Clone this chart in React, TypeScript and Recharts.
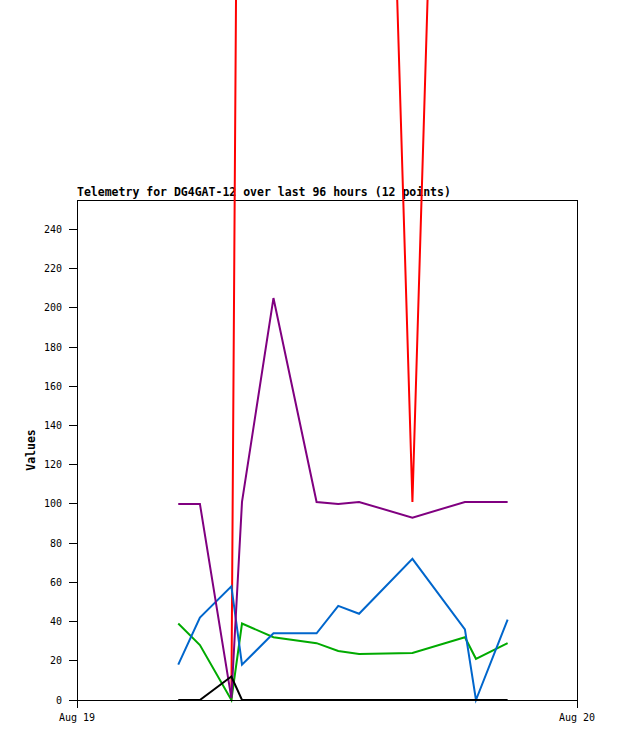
import React from 'react';
import { LineChart, Line, XAxis, YAxis, ReferenceArea } from 'recharts';

// time of each sample, in hours after Aug 19 00:00
const hours = [4.86, 5.9, 7.41, 7.92, 9.43, 11.5, 12.54, 13.54, 16.1, 18.62, 19.15, 20.67];
const redSeries = [null, null, 0, 820, 900, 950, 980, 1000, 101, 990, 1000, 1000];
const greenSeries = [39, 28, 0, 39, 32, 29, 25, 23.5, 24, 32, 21, 29];
const blueSeries = [18, 42, 58, 18, 34, 34, 48, 44, 72, 36, 0, 41];
const purpleSeries = [100, 100, 1, 101, 205, 101, 100, 101, 93, 101, 101, 101];
const blackSeries = [0, 0, 12, 0, 0, 0, 0, 0, 0, 0, 0, 0];

const xTickValues = [0, 24];
const xTickLabels = ['Aug 19', 'Aug 20'];
const yTicks = [0, 20, 40, 60, 80, 100, 120, 140, 160, 180, 200, 220, 240];
const yDomain = [0, 255];
const title = 'Telemetry for DG4GAT-12 over last 96 hours (12 points)';
const yLabel = 'Values';

const data = hours.map((t, i) => ({
  t,
  red: redSeries[i],
  green: greenSeries[i],
  blue: blueSeries[i],
  purple: purpleSeries[i],
  black: blackSeries[i],
}));

const MONO = '"DejaVu Sans Mono", monospace';

const css = `
.recharts-line, .recharts-line g, .recharts-line path { clip-path: none !important; }
.recharts-cartesian-axis-line, .recharts-cartesian-axis-tick-line, .recharts-reference-area-rect { shape-rendering: crispEdges; }
`;

export default function App() {
  return (
    <div style={{ position: 'absolute', left: 0, top: 0, width: 618, height: 741, background: '#fff' }}>
      <style>{css}</style>
      <div
        style={{
          position: 'absolute',
          left: 77,
          top: 186,
          fontFamily: MONO,
          fontWeight: 'bold',
          fontSize: 11.5,
          lineHeight: '12px',
          color: '#000',
          whiteSpace: 'nowrap',
          zIndex: 0,
        }}
      >
        {title}
      </div>
      <div style={{ position: 'absolute', left: 0, top: 0, zIndex: 1 }}>
        <LineChart
          width={618}
          height={741}
          data={data}
          margin={{ top: 200, right: 41, bottom: 11, left: 17 }}
        >
          <XAxis
            dataKey="t"
            type="number"
            domain={[xTickValues[0], xTickValues[1]]}
            ticks={xTickValues}
            tickFormatter={(v) => xTickLabels[xTickValues.indexOf(v)]}
            height={30}
            tickSize={8}
            tickMargin={6}
            axisLine={{ stroke: '#000' }}
            tickLine={{ stroke: '#000' }}
            tick={{ fill: '#000', fontSize: 10, fontFamily: MONO }}
          />
          <YAxis
            type="number"
            domain={yDomain}
            allowDataOverflow
            ticks={yTicks}
            width={60}
            tickSize={8}
            tickMargin={7}
            axisLine={{ stroke: '#000' }}
            tickLine={{ stroke: '#000' }}
            tick={{ fill: '#000', fontSize: 10, fontFamily: MONO }}
            label={{
              value: yLabel,
              angle: -90,
              position: 'insideLeft',
              offset: 14,
              style: { textAnchor: 'middle', fontFamily: MONO, fontWeight: 'bold', fontSize: 11.5, fill: '#000' },
            }}
          />
          <ReferenceArea
            x1={xTickValues[0]}
            x2={xTickValues[1]}
            y1={yDomain[0]}
            y2={yDomain[1]}
            fill="none"
            fillOpacity={0}
            stroke="#000"
            strokeWidth={1}
            strokeOpacity={1}
          />
          <Line type="linear" dataKey="red" stroke="#ff0000" strokeWidth={2} dot={false} activeDot={false} isAnimationActive={false} />
          <Line type="linear" dataKey="green" stroke="#00aa00" strokeWidth={2} dot={false} activeDot={false} isAnimationActive={false} />
          <Line type="linear" dataKey="blue" stroke="#0066cc" strokeWidth={2} dot={false} activeDot={false} isAnimationActive={false} />
          <Line type="linear" dataKey="purple" stroke="#800080" strokeWidth={2} dot={false} activeDot={false} isAnimationActive={false} />
          <Line type="linear" dataKey="black" stroke="#000000" strokeWidth={2} dot={false} activeDot={false} isAnimationActive={false} />
        </LineChart>
      </div>
    </div>
  );
}
